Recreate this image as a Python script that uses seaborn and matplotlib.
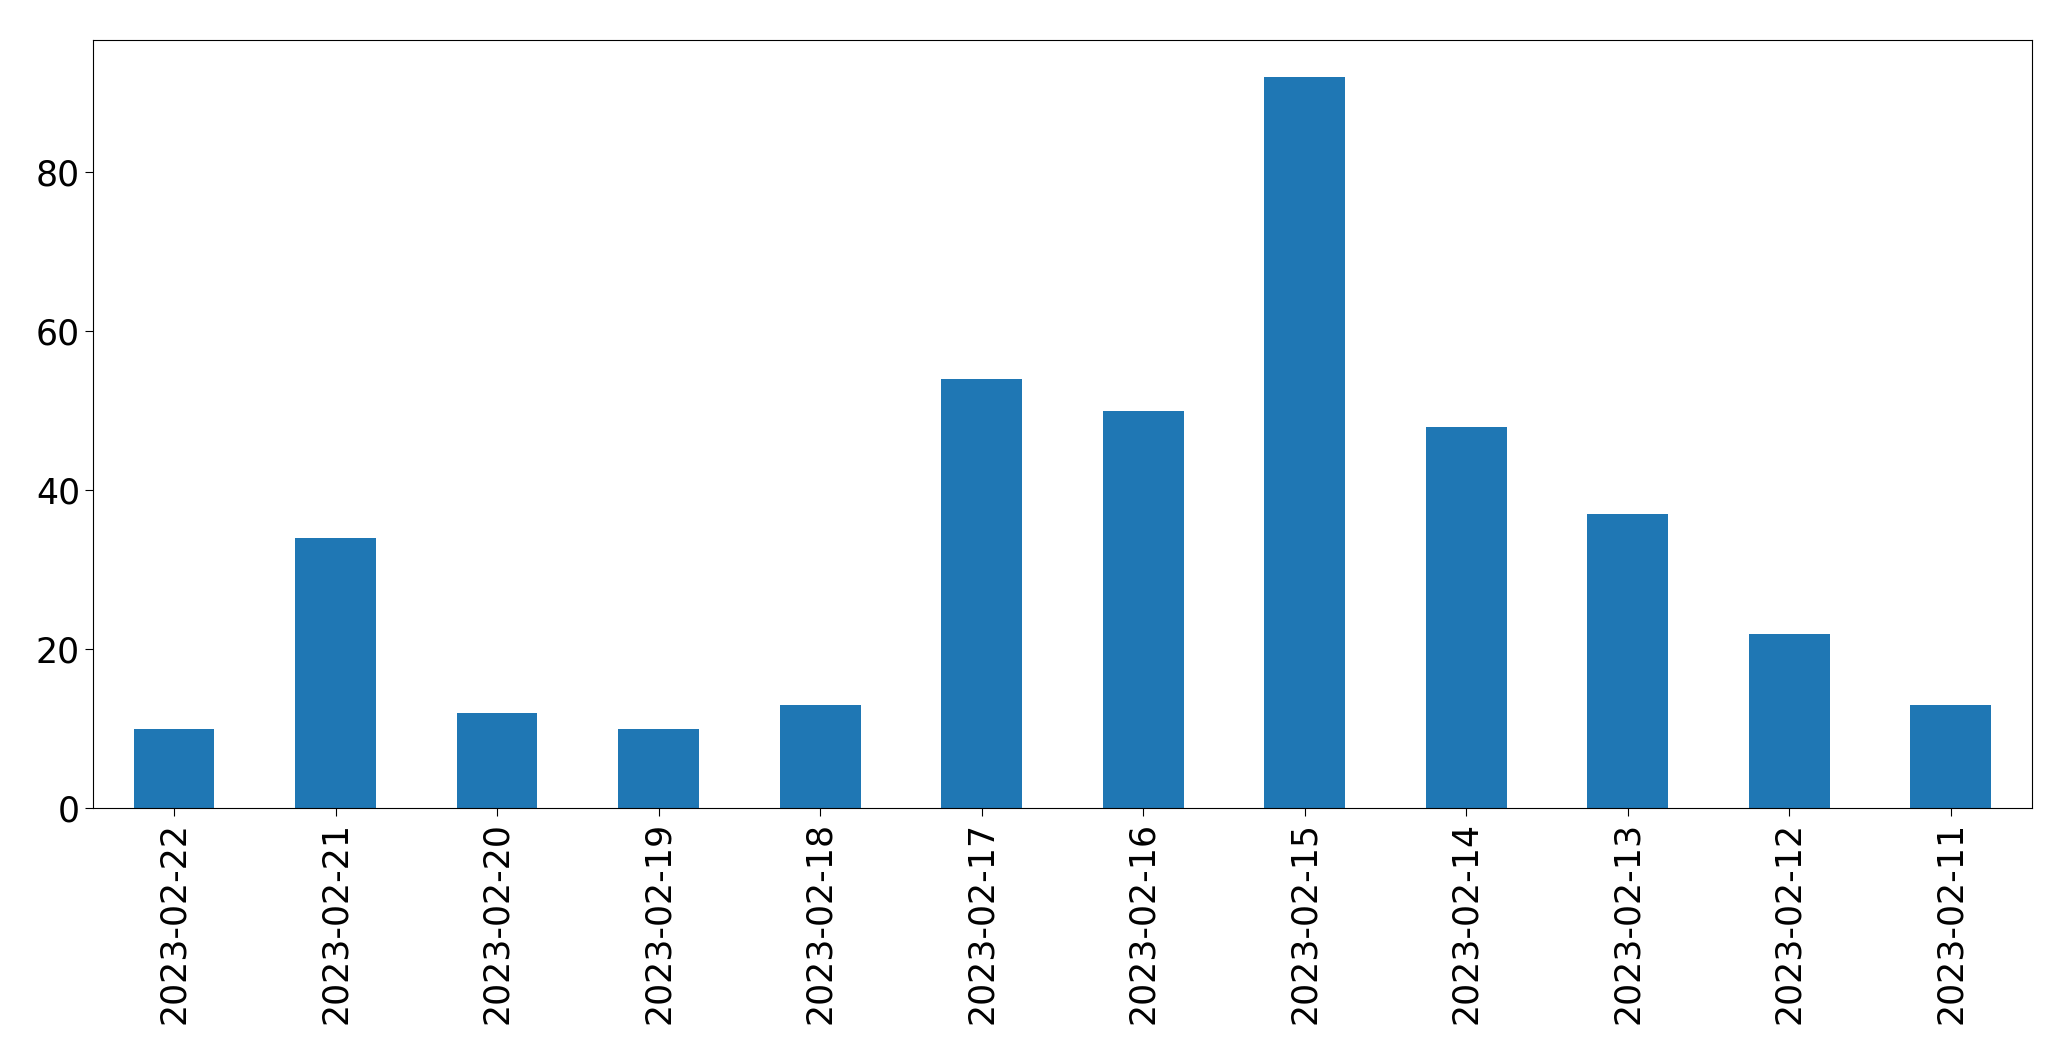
import numpy as np
import pandas as pd
import seaborn as sns
import matplotlib
matplotlib.use('Agg')
import matplotlib.pyplot as plt

# Daily counts, newest first (as in the reference)
dates = ['2023-02-22', '2023-02-21', '2023-02-20', '2023-02-19', '2023-02-18', '2023-02-17',
         '2023-02-16', '2023-02-15', '2023-02-14', '2023-02-13', '2023-02-12', '2023-02-11']
counts = [10, 34, 12, 10, 13, 54, 50, 92, 48, 37, 22, 13]

df = pd.DataFrame({'date': dates, 'count': counts})

fig, ax = plt.subplots(figsize=(20.71, 10.61), dpi=100)
sns.barplot(data=df, x='date', y='count', order=dates, color='#1f77b4',
            saturation=1, width=0.5, ax=ax)

ax.set_xlabel('')
ax.set_ylabel('')
ax.set_xlim(-0.5, len(dates) - 0.5)
ax.set_ylim(0, 96.6)
ax.tick_params(axis='both', labelsize=25, length=6)
ax.tick_params(axis='x', labelrotation=90)
for s in ax.spines.values():
    s.set_linewidth(0.8)

fig.subplots_adjust(left=0.045, right=0.981, top=0.962, bottom=0.238)
fig.savefig('out.png', dpi=100)
